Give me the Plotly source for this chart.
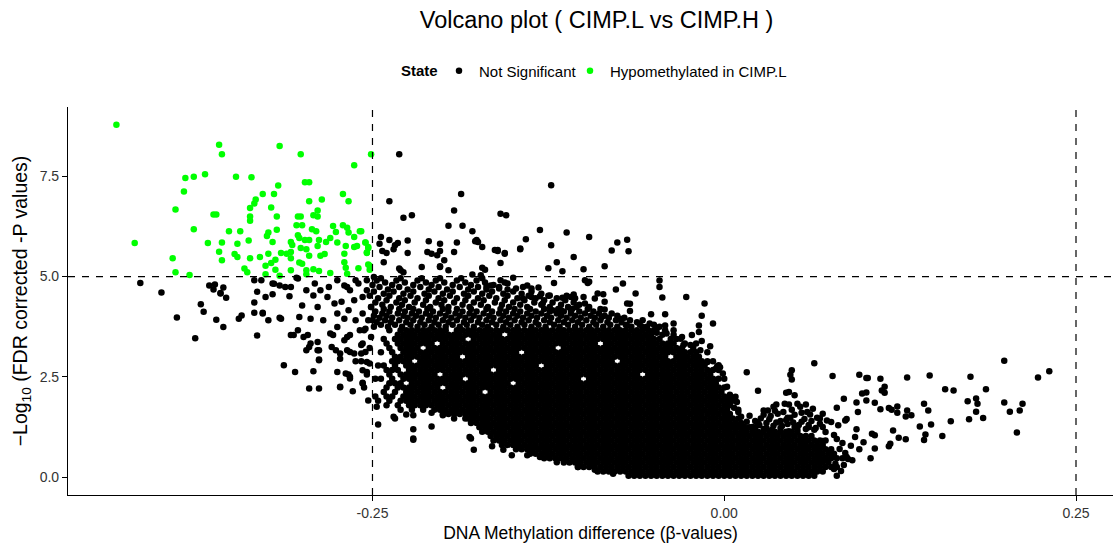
import plotly.graph_objects as go

# ---------------- data ----------------
# Hypomethylated in CIMP.L (green)
hypo_x = [-0.432,-0.359,-0.357,-0.316,-0.301,-0.251,-0.263,-0.383,-0.377,-0.369,-0.347,-0.336,-0.384,-0.390,-0.298,-0.295,-0.317,-0.328,-0.320,-0.333,
          -0.334,-0.295,-0.286,-0.271,-0.267,-0.322,-0.337,-0.289,-0.292,-0.289,-0.363,-0.361,-0.337,-0.337,-0.318,-0.303,-0.301,-0.304,-0.300,-0.318,
          -0.377,-0.352,-0.344,-0.293,-0.290,-0.278,-0.271,-0.268,-0.267,-0.259,-0.324,-0.325,-0.303,-0.302,-0.298,-0.295,-0.288,-0.280,-0.276,-0.275,
          -0.263,-0.255,-0.419,-0.367,-0.357,-0.346,-0.338,-0.321,-0.308,-0.283,-0.289,-0.301,-0.297,-0.269,-0.263,-0.261,-0.253,-0.392,-0.359,-0.357,
          -0.348,-0.346,-0.337,-0.330,-0.324,-0.319,-0.322,-0.315,-0.311,-0.308,-0.308,-0.302,-0.300,-0.295,-0.287,-0.284,-0.270,-0.270,-0.269,-0.254,
          -0.252,-0.390,-0.380,-0.341,-0.339,-0.326,-0.326,-0.319,-0.308,-0.297,-0.297,-0.292,-0.288,-0.280,-0.268,-0.260,-0.252,-0.316,-0.307,-0.255,
          -0.253,-0.254,-0.253,-0.258]
hypo_y = [8.79,8.29,8.05,8.26,8.05,8.05,7.78,7.46,7.49,7.55,7.49,7.48,7.12,6.67,7.35,7.35,7.27,7.06,7.06,6.92,
          6.82,6.88,6.92,7.06,6.88,6.72,6.71,6.65,6.53,6.50,6.55,6.55,6.50,6.39,6.50,6.50,6.50,6.28,6.28,6.17,
          6.18,6.13,6.13,6.18,6.13,6.26,6.28,6.22,6.10,6.13,6.10,6.01,6.03,5.96,5.91,5.91,5.91,5.96,6.11,5.85,
          5.99,5.85,5.84,5.84,5.85,5.82,5.90,5.86,5.86,5.86,5.76,5.71,5.68,5.76,5.74,5.76,5.71,5.46,5.62,5.41,
          5.56,5.49,5.46,5.49,5.57,5.42,5.34,5.59,5.57,5.61,5.46,5.35,5.32,5.52,5.52,5.56,5.57,5.36,5.22,5.59,
          5.27,5.11,5.04,5.20,5.11,5.27,5.06,5.17,5.16,5.16,5.06,5.18,5.14,5.09,5.07,5.21,5.17,5.02,5.79,5.85,
          5.74,5.60,5.30,6.13]

# Not significant: individually read scattered points
ns_x = [-0.415,-0.400,-0.389,-0.376,-0.372,-0.370,-0.366,-0.362,-0.363,-0.358,-0.356,-0.354,-0.361,-0.356,-0.345,-0.343,-0.334,-0.332,-0.334,-0.332,
        -0.334,-0.329,-0.328,-0.324,-0.326,-0.320,-0.321,-0.315,-0.312,-0.308,-0.304,-0.308,-0.313,-0.305,-0.295,-0.288,-0.292,-0.273,-0.264,-0.275,
        -0.267,-0.266,-0.257,-0.254,-0.253,-0.247,-0.246,-0.252,-0.262,-0.288,-0.306,-0.299,-0.294,-0.288,-0.279,-0.273,-0.266,-0.258,-0.257,-0.268,
        -0.278,-0.297,-0.358,-0.328,-0.316,-0.321,-0.316,-0.309,-0.303,-0.297,-0.300,-0.291,-0.289,-0.285,-0.302,-0.294,-0.303,-0.296,-0.289,-0.295,
        -0.289,-0.288,-0.282,-0.277,-0.275,-0.280,-0.275,-0.270,-0.276,-0.273,-0.269,-0.266,-0.273,-0.257,-0.268,-0.263,-0.257,-0.255,-0.258,-0.255,
        -0.262,-0.254,-0.251,-0.249,-0.292,-0.287,-0.281,-0.275,-0.270,-0.266,-0.260,-0.254,-0.257,-0.272,-0.267,-0.262,-0.270,-0.259,-0.266,-0.253,
        -0.251,-0.268,-0.263,-0.254,-0.257,
        -0.235,-0.226,-0.221,-0.208,-0.208,-0.200,-0.192,-0.184,-0.177,-0.181,-0.221,-0.234,-0.221,-0.221,-0.180,-0.178,-0.165,-0.157,-0.151,-0.140,
        -0.131,-0.119,-0.104,-0.092,-0.079,
        -0.231,-0.238,-0.228,-0.222,-0.187,-0.192,-0.196,-0.186,-0.179,-0.176,-0.172,-0.190,-0.192,-0.210,-0.202,-0.211,-0.208,-0.202,-0.204,-0.199,
        -0.202,-0.225,-0.225,-0.232,-0.235,-0.238,-0.244,-0.245,-0.243,-0.242,-0.231,-0.228,-0.159,-0.155,-0.161,-0.156,-0.159,-0.145,-0.141,-0.131,
        -0.123,-0.112,-0.123,-0.125,-0.119,-0.115,-0.107,-0.096,-0.100,-0.085,-0.076,-0.069,-0.080,-0.068,-0.177,-0.175,-0.161,-0.156,-0.172,-0.170,
        -0.179,-0.173,-0.145,-0.240,-0.234,-0.230,-0.215,-0.202,-0.196,-0.163,
        -0.096,-0.072,-0.077,-0.046,-0.046,-0.044,-0.027,-0.014,-0.016,-0.008,-0.010,-0.052,-0.042,-0.036,-0.063,-0.069,-0.067,-0.074,-0.054,-0.048,
        -0.030,-0.023,-0.018,-0.016,-0.097,-0.099,-0.121,-0.067,-0.087,-0.085,-0.053,-0.058,-0.042,-0.036,-0.029,-0.018,-0.169,-0.166,-0.159,-0.154,
        -0.150,-0.148,-0.160,-0.140,-0.137,-0.132,-0.124,-0.115,-0.109,-0.107,-0.100,-0.090,-0.086,-0.085,-0.092,-0.143,-0.137,-0.131,-0.129,-0.122,
        -0.116,-0.109,-0.105,-0.099,-0.077,-0.069,-0.056,-0.048,-0.041,-0.031,-0.024,-0.017,-0.012,-0.005,
        -0.003,-0.001,0.002,0.008,0.009,0.007,-0.004,-0.006,0.016,0.024,0.009,0.014,0.004,0.006,0.010,0.012,0.016,
        0.018,0.026,0.028,0.031,0.035,0.037,0.043,0.046,0.052,0.054,0.058,0.059,0.061,0.066,0.068,0.073,0.076,0.081,0.086,0.045,
        0.047,0.025,0.030,0.035,0.040,0.045,0.050,0.055,0.060,0.065,0.070,0.033,0.038,0.042,0.050,0.055,0.064,0.072,0.078,0.080,
        0.084,0.082,0.086,0.088,0.085,0.090,0.020,0.028,0.022,0.040,0.058,0.070,0.075,0.078,0.083,0.072,
        0.064,0.048,0.047,0.048,0.077,0.096,0.101,0.102,0.111,0.130,0.146,0.175,0.199,0.223,0.231,0.044,0.046,0.050,0.085,0.094,
        0.098,0.101,0.101,0.107,0.112,0.114,0.114,0.111,0.117,0.119,0.123,0.123,0.130,0.133,0.129,0.139,0.142,0.145,0.147,0.143,
        0.142,0.155,0.157,0.163,0.161,0.173,0.174,0.179,0.180,0.179,0.184,0.186,0.199,0.203,0.210,0.212,0.208,0.120,0.124,0.129,
        0.118,0.117,0.107,0.104,0.105,0.107,0.096,0.094,0.093,0.099,0.080,0.091,0.087,0.087,0.080,0.079,0.095]
ns_y = [4.84,4.60,3.98,3.46,4.31,4.12,4.78,4.80,4.68,4.59,4.73,4.47,3.92,3.74,3.95,4.03,4.10,3.53,4.35,4.62,
        4.91,4.91,4.10,3.91,4.49,4.82,4.56,3.95,4.74,4.74,4.97,3.54,2.79,2.62,2.21,2.21,2.64,2.24,2.14,2.62,
        2.56,2.46,2.35,2.62,1.91,1.75,1.31,2.83,2.89,2.91,3.54,3.49,3.33,3.16,3.24,3.08,3.12,3.08,3.33,3.49,
        3.54,3.16,4.58,4.08,3.97,4.83,4.78,4.51,4.95,4.66,4.28,4.83,4.24,3.91,3.99,3.95,3.66,3.54,3.37,3.24,
        3.16,2.93,4.49,4.33,4.08,3.58,3.74,3.41,3.16,2.95,2.58,2.50,2.25,2.33,4.74,4.41,4.08,3.70,3.29,3.12,
        4.91,4.66,4.24,4.99,4.53,4.66,4.74,4.91,4.78,4.66,4.83,4.91,4.49,4.37,4.16,3.91,3.95,3.66,3.54,3.91,
        3.49,3.16,3.08,2.87,2.66,
        1.50,1.56,1.19,1.26,1.60,1.54,1.46,1.46,1.50,1.00,0.96,1.46,1.54,0.93,0.96,0.68,0.77,0.68,0.54,0.54,
        0.50,0.37,0.25,0.18,0.08,
        8.05,6.88,6.47,6.53,7.06,6.65,6.27,6.27,6.13,5.91,5.74,5.85,5.61,5.88,5.82,5.61,5.57,5.64,5.53,5.41,
        5.24,5.90,5.59,5.84,5.68,5.91,5.99,5.82,5.64,5.36,5.20,5.11,6.57,6.53,5.64,5.57,5.34,5.68,5.93,6.16,
        7.28,6.10,5.78,5.21,5.36,5.13,5.49,5.99,5.18,5.26,5.85,5.92,5.65,5.63,5.88,5.86,5.66,5.59,5.22,5.17,
        5.05,5.03,5.70,5.59,5.78,5.16,5.24,5.26,5.16,5.66,
        4.87,4.83,4.68,4.90,4.74,4.48,4.49,4.33,4.02,3.83,3.26,4.06,4.06,3.83,4.58,4.33,4.14,3.95,3.66,3.60,
        3.49,3.54,3.62,3.39,4.84,4.91,4.84,4.32,3.99,4.18,3.83,3.74,3.78,3.66,3.29,3.78,4.74,4.78,4.91,4.83,
        4.97,4.70,4.70,4.78,4.70,4.73,4.53,4.47,4.49,4.55,4.49,4.58,4.56,4.37,4.45,4.45,4.49,4.51,4.33,4.16,
        4.16,4.16,4.24,4.33,3.66,3.78,3.54,3.70,3.58,3.45,3.29,3.16,2.87,2.76,
        2.74,2.58,2.25,2.00,1.87,1.73,2.79,2.70,2.61,2.15,1.26,1.25,2.05,1.95,1.62,1.50,1.38,
        1.53,1.46,1.66,1.66,1.75,1.81,1.83,1.81,1.83,1.75,1.81,1.62,1.56,1.48,1.46,1.41,1.37,1.29,1.41,1.48,
        1.48,1.30,1.35,1.28,1.40,1.32,1.25,1.38,1.30,1.22,1.25,1.52,1.58,1.62,1.55,1.60,1.18,1.12,1.05,0.95,
        0.85,0.70,0.60,0.45,0.30,0.78,1.25,1.20,1.40,1.22,1.20,0.90,0.60,0.20,0.15,0.45,
        2.84,2.66,2.55,2.43,2.52,2.55,2.47,2.47,2.45,2.48,2.53,2.50,2.90,2.48,2.64,2.10,2.12,2.04,1.95,1.86,
        2.08,2.11,1.91,1.85,2.16,2.25,2.10,1.69,1.72,1.68,1.76,1.60,1.66,1.54,1.51,1.26,1.83,1.66,1.31,1.06,
        0.92,1.02,2.19,2.16,1.39,1.89,1.44,1.96,1.83,1.63,1.47,2.19,1.86,1.63,1.66,1.83,1.11,1.16,0.98,0.94,
        0.83,0.77,0.71,0.47,1.08,1.04,0.69,1.19,1.00,0.87,0.03,0.42,0.50,1.45,1.73,0.33,1.62]

# Not significant: hump just right of zero
shelf_x = [0.024,0.032,0.037,0.044,0.049,0.053,0.057,0.062,0.068,0.028,0.036,0.048,0.063,0.070,0.030,0.041,0.052,0.060,0.034,0.046]
shelf_y = [1.34,1.44,1.36,1.42,1.36,1.30,1.45,1.40,1.33,1.55,1.65,1.68,1.70,1.58,1.22,1.27,1.20,1.24,1.18,1.14]

# Not significant: densely packed core, read row by row
# (beta difference in thousandths; one -log10 FDR level per row)
blob_y = [0.03,0.14,0.25,0.36,0.47,0.58,0.69,0.80,0.91,1.02,1.13,1.24,1.35,1.46,1.57,1.68,1.79,
          1.90,2.01,2.12,2.23,2.34,2.45,2.56,2.67,2.78,2.89,3.00,3.11,3.22,3.33,3.44,3.55,3.66]
blob_00 = [-68,-64,-60,-56,-52,-48,-44,-40,-36,-32,-28,-24,-20,-16,-12,-8,-4,0,4,8,12,16,20,24,28,32,36,40,44,48,52,56,60,64]
blob_01 = [-90,-86,-82,-78,-74,-70,-66,-62,-58,-54,-50,-46,-42,-38,-34,-30,-26,-22,-18,-14,-10,-6,-2,2,6,10,14,18,22,26,30,34,38,42,46,50,54,58,62,66,70]
blob_02 = [-104,-100,-96,-92,-88,-84,-80,-76,-72,-68,-64,-60,-56,-52,-48,-44,-40,-36,-32,-28,-24,-20,-16,-12,-8,-4,0,4,8,12,16,20,24,28,32,36,40,44,48,52,56,60,64,68,72,76,80]
blob_03 = [-114,-110,-106,-102,-98,-94,-90,-86,-82,-78,-74,-70,-66,-62,-58,-54,-50,-46,-42,-38,-34,-30,-26,-22,-18,-14,-10,-6,-2,2,6,10,14,18,22,26,30,34,38,42,46,50,54,58,62,66,70,74]
blob_04 = [-128,-124,-120,-116,-112,-108,-104,-100,-96,-92,-88,-84,-80,-76,-72,-68,-64,-60,-56,-52,-48,-44,-40,-36,-32,-28,-24,-20,-16,-12,-8,-4,0,4,8,12,16,20,24,28,32,36,40,44,48,52,56,60,64,68,72,76,80,84]
blob_05 = [-138,-134,-130,-126,-122,-118,-114,-110,-106,-102,-98,-94,-90,-86,-82,-78,-74,-70,-66,-62,-58,-54,-50,-46,-42,-38,-34,-30,-26,-22,-18,-14,-10,-6,-2,2,6,10,14,18,22,26,30,34,38,42,46,50,54,58,62,66,70,74,78]
blob_06 = [-148,-144,-140,-136,-132,-128,-124,-120,-116,-112,-108,-104,-100,-96,-92,-88,-84,-80,-76,-72,-68,-64,-60,-56,-52,-48,-44,-40,-36,-32,-28,-24,-20,-16,-12,-8,-4,0,4,8,12,16,20,24,28,32,36,40,44,48,52,56,60,64,68,72,76]
blob_07 = [-158,-154,-150,-146,-142,-138,-134,-130,-126,-122,-118,-114,-110,-106,-102,-98,-94,-90,-86,-82,-78,-74,-70,-66,-62,-58,-54,-50,-46,-42,-38,-34,-30,-26,-22,-18,-14,-10,-6,-2,2,6,10,14,18,22,26,30,34,38,42,46,50,54,58,62,66,70]
blob_08 = [-164,-160,-156,-152,-148,-144,-140,-136,-132,-128,-124,-120,-116,-112,-108,-104,-100,-96,-92,-88,-84,-80,-76,-72,-68,-64,-60,-56,-52,-48,-44,-40,-36,-32,-28,-24,-20,-16,-12,-8,-4,0,4,8,12,16,20,24,28,32,36,40,44,48,52,56,60,64,68,72]
blob_09 = [-166,-162,-158,-154,-150,-146,-142,-138,-134,-130,-126,-122,-118,-114,-110,-106,-102,-98,-94,-90,-86,-82,-78,-74,-70,-66,-62,-58,-54,-50,-46,-42,-38,-34,-30,-26,-22,-18,-14,-10,-6,-2,2,6,10,14,18,22,26,30,34,38,42,46,50,54,58,62]
blob_10 = [-172,-168,-164,-160,-156,-152,-148,-144,-140,-136,-132,-128,-124,-120,-116,-112,-108,-104,-100,-96,-92,-88,-84,-80,-76,-72,-68,-64,-60,-56,-52,-48,-44,-40,-36,-32,-28,-24,-20,-16,-12,-8,-4,0,4,8,12,16,20,24,28,32,36,40,44,48,52]
blob_11 = [-174,-170,-166,-162,-158,-154,-150,-146,-142,-138,-134,-130,-126,-122,-118,-114,-110,-106,-102,-98,-94,-90,-86,-82,-78,-74,-70,-66,-62,-58,-54,-50,-46,-42,-38,-34,-30,-26,-22,-18,-14,-10,-6,-2,2,6,10,14,18,22]
blob_12 = [-180,-176,-172,-168,-164,-160,-156,-152,-148,-144,-140,-136,-132,-128,-124,-120,-116,-112,-108,-104,-100,-96,-92,-88,-84,-80,-76,-72,-68,-64,-60,-56,-52,-48,-44,-40,-36,-32,-28,-24,-20,-16,-12,-8,-4,0,4,8,12]
blob_13 = [-182,-178,-174,-170,-166,-162,-158,-154,-150,-146,-142,-138,-134,-130,-126,-122,-118,-114,-110,-106,-102,-98,-94,-90,-86,-82,-78,-74,-70,-66,-62,-58,-54,-50,-46,-42,-38,-34,-30,-26,-22,-18,-14,-10,-6,-2,2,6,10]
blob_14 = [-200,-196,-192,-188,-184,-180,-176,-172,-168,-164,-160,-156,-152,-148,-144,-140,-136,-132,-128,-124,-120,-116,-112,-108,-104,-100,-96,-92,-88,-84,-80,-76,-72,-68,-64,-60,-56,-52,-48,-44,-40,-36,-32,-28,-24,-20,-16,-12,-8,-4,0,4]
blob_15 = [-230,-222,-214,-206,-202,-198,-194,-190,-186,-182,-178,-174,-170,-166,-162,-158,-154,-150,-146,-142,-138,-134,-130,-126,-122,-118,-114,-110,-106,-102,-98,-94,-90,-86,-82,-78,-74,-70,-66,-62,-58,-54,-50,-46,-42,-38,-34,-30,-26,-22,-18,-14,-10,-6,-2,2,10]
blob_16 = [-240,-232,-224,-220,-216,-212,-208,-204,-200,-196,-192,-188,-184,-180,-176,-172,-168,-164,-160,-156,-152,-148,-144,-140,-136,-132,-128,-124,-120,-116,-112,-108,-104,-100,-96,-92,-88,-84,-80,-76,-72,-68,-64,-60,-56,-52,-48,-44,-40,-36,-32,-28,-24,-20,-16,-12,-8,-4,0,4]
blob_17 = [-246,-238,-230,-226,-222,-218,-214,-210,-206,-202,-198,-194,-190,-186,-182,-178,-174,-170,-166,-162,-158,-154,-150,-146,-142,-138,-134,-130,-126,-122,-118,-114,-110,-106,-102,-98,-94,-90,-86,-82,-78,-74,-70,-66,-62,-58,-54,-50,-46,-42,-38,-34,-30,-26,-22,-18,-14,-10,-6,-2,2,6]
blob_18 = [-248,-240,-236,-228,-224,-220,-216,-212,-208,-204,-200,-196,-192,-188,-184,-180,-176,-172,-168,-164,-160,-156,-152,-148,-144,-140,-136,-132,-128,-124,-120,-116,-112,-108,-104,-100,-96,-92,-88,-84,-80,-76,-72,-68,-64,-60,-56,-52,-48,-44,-40,-36,-32,-28,-24,-20,-16,-12,-8,-4,0,4]
blob_19 = [-242,-234,-226,-222,-218,-214,-210,-206,-202,-198,-194,-190,-186,-182,-178,-174,-166,-162,-158,-154,-150,-146,-142,-138,-134,-130,-126,-122,-118,-114,-110,-106,-102,-98,-94,-90,-86,-82,-78,-74,-70,-66,-62,-58,-54,-50,-46,-42,-38,-34,-30,-26,-22,-18,-14,-10,-6,-2]
blob_20 = [-256,-240,-232,-228,-224,-220,-216,-212,-208,-204,-196,-192,-188,-184,-180,-176,-172,-168,-164,-160,-156,-152,-148,-144,-140,-136,-132,-128,-124,-120,-116,-112,-108,-104,-100,-96,-92,-88,-84,-80,-76,-72,-68,-64,-60,-56,-52,-48,-44,-40,-36,-32,-28,-24,-20,-16,-12,-8,-4,0]
blob_21 = [-238,-234,-230,-222,-218,-214,-210,-206,-202,-198,-194,-190,-186,-182,-178,-174,-170,-166,-162,-158,-154,-146,-142,-138,-134,-130,-126,-122,-118,-114,-110,-106,-102,-98,-94,-90,-86,-82,-78,-74,-70,-66,-62,-58,-54,-50,-46,-42,-38,-34,-30,-26,-22,-18,-14,-10,-6]
blob_22 = [-248,-244,-236,-228,-224,-220,-216,-212,-208,-204,-200,-196,-192,-188,-180,-176,-172,-168,-164,-160,-156,-152,-148,-144,-140,-136,-132,-128,-124,-120,-116,-112,-108,-104,-96,-92,-88,-84,-80,-76,-72,-68,-64,-60,-56,-52,-48,-44,-40,-36,-32,-28,-24,-20,-16,-12,-8,-4,0]
blob_23 = [-254,-238,-230,-226,-222,-218,-214,-210,-206,-198,-194,-190,-186,-182,-178,-174,-170,-166,-162,-158,-154,-150,-146,-142,-138,-134,-130,-126,-122,-118,-114,-110,-106,-102,-98,-94,-90,-86,-82,-78,-74,-70,-66,-62,-54,-50,-46,-42,-38,-34,-30,-26,-22,-18,-14,-10]
blob_24 = [-240,-236,-232,-224,-220,-216,-212,-208,-204,-200,-196,-192,-188,-184,-180,-176,-172,-168,-160,-156,-152,-148,-144,-140,-136,-132,-128,-124,-120,-116,-112,-108,-104,-100,-96,-92,-88,-84,-80,-76,-72,-68,-64,-60,-56,-52,-48,-44,-40,-36,-32,-28,-24,-20,-16,-12,-8,-4]
blob_25 = [-246,-242,-234,-226,-222,-218,-214,-210,-206,-202,-198,-194,-190,-186,-182,-178,-174,-170,-166,-162,-158,-154,-150,-146,-142,-138,-134,-126,-122,-118,-114,-110,-106,-102,-98,-94,-90,-86,-82,-78,-74,-70,-66,-62,-58,-54,-50,-46,-42,-38,-34,-30,-26,-22,-18,-14]
blob_26 = [-258,-236,-232,-228,-224,-216,-212,-208,-204,-200,-196,-192,-188,-184,-180,-176,-172,-168,-164,-160,-156,-152,-148,-144,-140,-136,-132,-128,-124,-120,-116,-112,-108,-104,-100,-96,-92,-88,-84,-80,-72,-68,-64,-60,-56,-52,-48,-44,-40,-36,-32,-28,-24,-20,-16,-12,-8]
blob_27 = [-234,-230,-226,-222,-218,-214,-210,-206,-202,-198,-194,-190,-182,-178,-174,-170,-166,-162,-158,-154,-150,-146,-142,-138,-134,-130,-126,-122,-118,-114,-110,-106,-102,-98,-94,-90,-86,-82,-78,-74,-70,-66,-62,-58,-54,-50,-46,-42,-34,-30,-26,-22,-18]
blob_28 = [-244,-236,-228,-224,-220,-216,-212,-208,-204,-200,-196,-192,-188,-184,-180,-176,-172,-168,-164,-160,-156,-152,-148,-140,-136,-132,-128,-124,-120,-116,-112,-108,-104,-100,-96,-92,-88,-84,-80,-76,-72,-68,-64,-60,-56,-52,-48,-44,-40,-36,-32,-28,-24,-20,-12]
blob_29 = [-252,-238,-230,-226,-222,-218,-210,-206,-202,-198,-194,-190,-186,-182,-178,-174,-170,-166,-162,-158,-154,-150,-146,-142,-138,-134,-130,-126,-122,-114,-110,-106,-102,-98,-94,-90,-86,-82,-78,-74,-70,-66,-62,-58,-54,-50,-46,-42,-38,-34,-30,-22]
blob_30 = [-240,-232,-228,-224,-220,-216,-212,-208,-200,-196,-192,-188,-184,-180,-176,-172,-168,-164,-160,-156,-152,-148,-144,-140,-136,-132,-128,-124,-120,-116,-112,-108,-104,-100,-96,-92,-84,-80,-76,-72,-68,-64,-60,-56,-52,-48,-44,-40,-36,-28,-20]
blob_31 = [-242,-234,-230,-226,-222,-218,-214,-210,-206,-202,-198,-194,-190,-186,-178,-174,-170,-166,-162,-158,-154,-150,-146,-142,-138,-134,-130,-126,-122,-118,-114,-110,-106,-102,-98,-94,-90,-86,-82,-78,-74,-70,-66,-62,-58,-54,-50,-46,-38,-34]
blob_32 = [-232,-228,-224,-220,-216,-212,-208,-204,-200,-196,-192,-188,-184,-180,-176,-172,-168,-164,-160,-152,-148,-144,-140,-136,-132,-128,-124,-120,-116,-112,-108,-104,-100,-96,-92,-88,-84,-80,-76,-72,-68,-64,-60,-56,-52,-44,-36]
blob_33 = [-256,-238,-230,-226,-222,-218,-214,-210,-206,-202,-198,-190,-186,-182,-178,-174,-170,-166,-162,-158,-154,-150,-146,-142,-138,-134,-130,-126,-122,-118,-114,-110,-106,-102,-98,-94,-90,-86,-82,-78,-74,-70,-66,-62,-58,-50,-42]
blob_rows = [blob_00,blob_01,blob_02,blob_03,blob_04,blob_05,blob_06,blob_07,blob_08,blob_09,blob_10,blob_11,
             blob_12,blob_13,blob_14,blob_15,blob_16,blob_17,blob_18,blob_19,blob_20,blob_21,blob_22,blob_23,
             blob_24,blob_25,blob_26,blob_27,blob_28,blob_29,blob_30,blob_31,blob_32,blob_33]

# Not significant: looser band above the core (thinning out towards the 5.0 cut)
band_y = [3.75,3.80,3.86,3.91,3.97,4.02,4.08,4.13,4.19,4.24,4.30,4.35,4.41,4.46,4.52,4.57,4.63,4.68,4.74,4.79,4.85,4.90,4.96]
band_00 = [-249,-239,-229,-218,-208,-198,-188,-178,-168,-157,-147,-137,-127,-117,-106,-96,-86,-76,-66,-55,-46]
band_01 = [-244,-234,-223,-213,-203,-193,-183,-172,-162,-152,-142,-132,-121,-111,-101,-91,-81,-70,-60,-50]
band_02 = [-247,-237,-226,-216,-206,-196,-185,-175,-165,-155,-144,-134,-124,-114,-104,-93,-83,-73,-62]
band_03 = [-250,-241,-231,-221,-210,-200,-190,-180,-169,-159,-149,-139,-128,-118,-108,-98,-88,-77,-67,-58]
band_04 = [-245,-236,-225,-215,-205,-194,-184,-174,-164,-153,-143,-133,-123,-112,-102,-92,-82,-71]
band_05 = [-249,-240,-228,-219,-209,-198,-188,-178,-167,-157,-147,-137,-126,-116,-106,-95,-85,-76]
band_06 = [-243,-232,-222,-212,-202,-191,-181,-171,-160,-150,-140,-130,-119,-109,-99,-89,-80]
band_07 = [-248,-238,-227,-217,-207,-196,-186,-176,-165,-155,-145,-134,-124,-114,-103,-93]
band_08 = [-242,-231,-221,-211,-200,-190,-180,-169,-159,-149,-138,-128,-118,-108,-97,-88]
band_09 = [-251,-237,-224,-209,-196,-181,-168,-153,-140,-124,-111,-96]
band_10 = [-243,-229,-214,-201,-186,-173,-158,-145,-130,-116,-103]
band_11 = [-248,-233,-220,-205,-192,-178,-163,-150,-135,-122,-107]
band_12 = [-240,-227,-212,-199,-184,-171,-156,-142,-128,-113]
band_13 = [-246,-231,-218,-203,-190,-175,-162,-147,-134,-119,-106]
band_14 = [-252,-238,-223,-210,-195,-182,-167,-154,-139,-125,-112]
band_15 = [-242,-228,-213,-200,-185,-172,-157,-144,-130]
band_16 = [-249,-235,-221,-206,-193,-178,-165,-150,-137]
band_17 = [-239,-225,-210,-197,-182,-169,-154]
band_18 = [-245,-231,-216,-203,-188,-175,-160,-143]
band_19 = [-250,-236,-221,-208,-193,-180,-164]
band_20 = [-241,-227,-212,-199,-184,-170,-156]
band_21 = [-247,-233,-218,-205,-190,-176]
band_22 = [-244,-230,-215,-202,-187,-172]
band_rows = [band_00,band_01,band_02,band_03,band_04,band_05,band_06,band_07,band_08,band_09,band_10,band_11,
             band_12,band_13,band_14,band_15,band_16,band_17,band_18,band_19,band_20,band_21,band_22]

beta_cut = [-0.25, 0.25]
p_cut = 5.0

# ---------------- assemble ----------------
not_x = list(ns_x) + list(shelf_x)
not_y = list(ns_y) + list(shelf_y)
for yy, row in list(zip(blob_y, blob_rows)) + list(zip(band_y, band_rows)):
    not_x += [v / 1000.0 for v in row]
    not_y += [yy] * len(row)

FONT = "Liberation Sans, Arial, Helvetica, sans-serif"

fig = go.Figure()
fig.add_trace(go.Scatter(x=not_x, y=not_y, mode="markers", name="Not Significant", legend="legend",
                         marker=dict(color="#000000", size=6.5, line=dict(width=0))))
fig.add_trace(go.Scatter(x=hypo_x, y=hypo_y, mode="markers", name="Hypomethylated in CIMP.L", legend="legend2",
                         marker=dict(color="#00FF00", size=6.5, line=dict(width=0))))

for b in beta_cut:
    fig.add_vline(x=b, line=dict(color="black", width=1.2, dash="7px,7px"), layer="above")
fig.add_hline(y=p_cut, line=dict(color="black", width=1.2, dash="7px,7px"), layer="above")

axis_common = dict(showgrid=False, zeroline=False, showline=True, linecolor="black", linewidth=1.1,
                   ticks="outside", ticklen=5, tickwidth=1.1, tickcolor="black",
                   tickfont=dict(family=FONT, size=14, color="#333333"), mirror=False)

PLOT_L, PLOT_W = 68, 1045
legend_common = dict(orientation="h", xanchor="left", y=1.093, yanchor="middle",
                     font=dict(family=FONT, size=15, color="black"), bgcolor="rgba(0,0,0,0)")

fig.update_layout(
    width=1115, height=544,
    paper_bgcolor="white", plot_bgcolor="white",
    margin=dict(l=68, r=2, t=107, b=49),
    font=dict(family=FONT, color="black"),
    title=dict(text="Volcano plot ( CIMP.L vs CIMP.H )", x=0.535, xanchor="center",
               y=1 - 20 / 544, yanchor="middle", yref="container",
               font=dict(family=FONT, size=23.5, color="black")),
    showlegend=True,
    legend=dict(x=(439 - PLOT_L) / PLOT_W, **legend_common),
    legend2=dict(x=(570 - PLOT_L) / PLOT_W, **legend_common),
    annotations=[dict(text="<b>State</b>", xref="paper", yref="paper", x=(399 - PLOT_L) / PLOT_W, y=1.093,
                      xanchor="left", yanchor="middle", showarrow=False,
                      font=dict(family=FONT, size=15, color="black"))],
    xaxis=dict(range=[-0.4664, 0.2763], tickvals=[-0.25, 0.0, 0.25], ticktext=["-0.25", "0.00", "0.25"],
               title=dict(text="DNA Methylation difference (β-values)", font=dict(family=FONT, size=17.5, color="black"),
                          standoff=6),
               **axis_common),
    yaxis=dict(range=[-0.449, 9.23], tickvals=[0, 2.5, 5.0, 7.5], ticktext=["0.0", "2.5", "5.0", "7.5"],
               title=dict(text="−Log<sub>10</sub> (FDR corrected -P values)",
                          font=dict(family=FONT, size=19.5, color="black"), standoff=6),
               **axis_common),
)

fig.write_html("out.html")
